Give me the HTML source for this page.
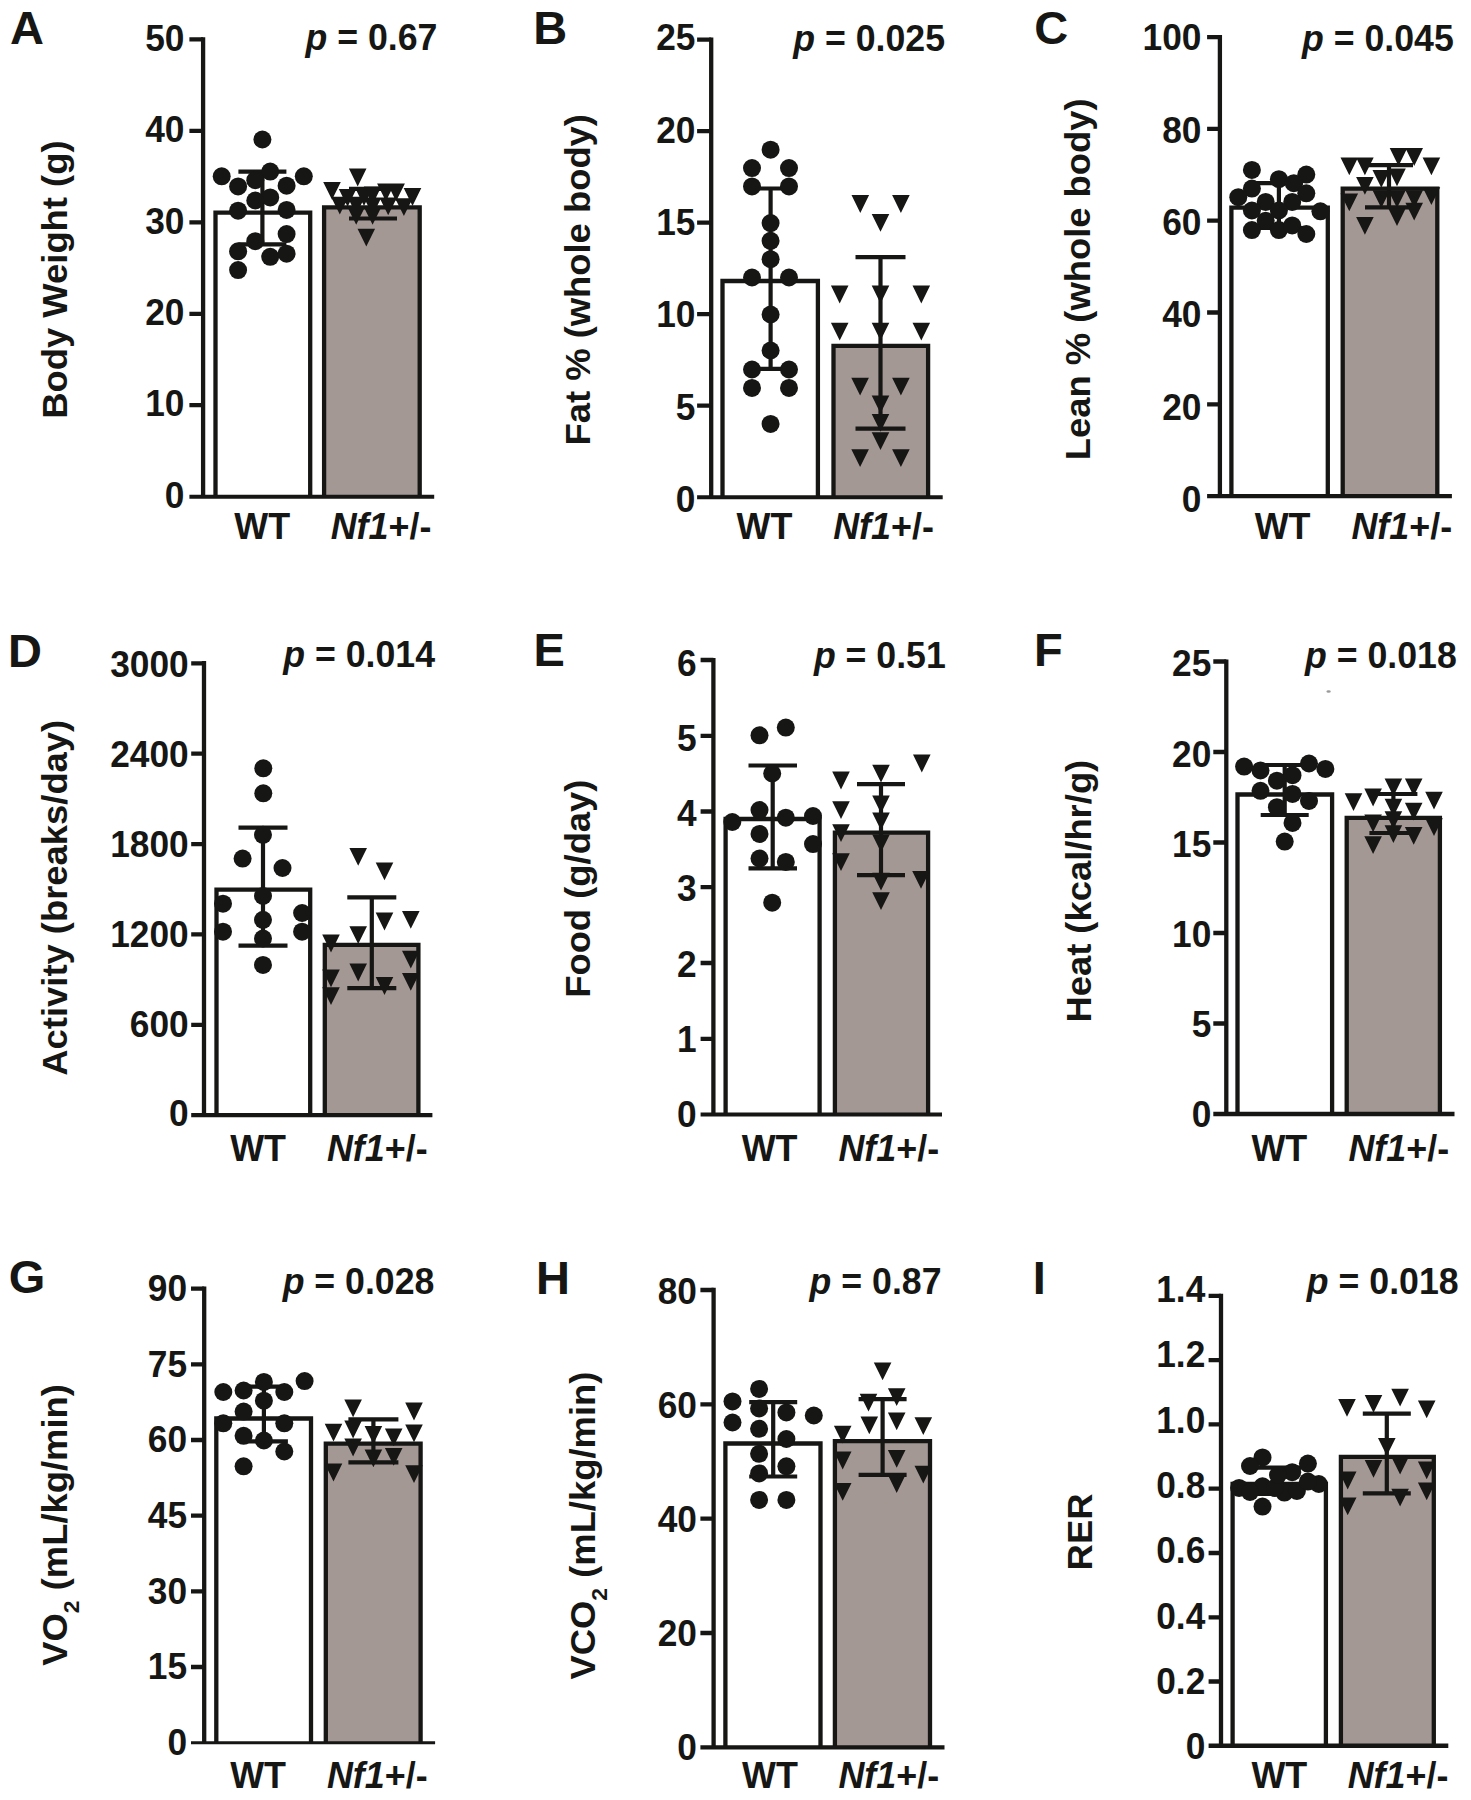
<!DOCTYPE html>
<html><head><meta charset="utf-8"><title>Figure</title>
<style>
html,body{margin:0;padding:0;background:#fff;}
body{width:1471px;height:1800px;overflow:hidden;}
svg{display:block;}
text{font-family:"Liberation Sans",sans-serif;font-weight:bold;fill:#161614;}
.tk{font-size:35.3px;text-anchor:end;}
.let{font-size:47px;}
.pv{font-size:35.7px;text-anchor:end;}
.xl{font-size:35.9px;}
.yl{font-size:35px;text-anchor:start;}
</style></head><body>
<svg width="1471" height="1800" viewBox="0 0 1471 1800">
<rect width="1471" height="1800" fill="#fff"/>
<rect x="215.5" y="212.6" width="94.7" height="284.1" fill="#ffffff"/>
<path d="M215.5 496.7V212.6H310.2V496.7" fill="none" stroke="#161614" stroke-width="4.3" stroke-linejoin="miter" stroke-linecap="butt"/>
<rect x="324.1" y="207.3" width="95.5" height="289.4" fill="#a39894"/>
<path d="M324.1 496.7V207.3H419.7V496.7" fill="none" stroke="#161614" stroke-width="4.3" stroke-linejoin="miter" stroke-linecap="butt"/>
<path d="M203.1 37.2V496.7" stroke="#161614" stroke-width="4.3" fill="none"/>
<path d="M189.4 496.7H434.2" stroke="#161614" stroke-width="4.0" fill="none"/>
<text transform="translate(184.4 507.8) scale(1 1.03)" class="tk">0</text>
<text transform="translate(184.4 416.4) scale(1 1.03)" class="tk">10</text>
<text transform="translate(184.4 325) scale(1 1.03)" class="tk">20</text>
<text transform="translate(184.4 233.7) scale(1 1.03)" class="tk">30</text>
<text transform="translate(184.4 142.3) scale(1 1.03)" class="tk">40</text>
<text transform="translate(184.4 50.9) scale(1 1.03)" class="tk">50</text>
<path d="M189.4 405.2H203.1M189.4 313.8H203.1M189.4 222.3H203.1M189.4 130.9H203.1M189.4 39.4H203.1" stroke="#161614" stroke-width="4.3" fill="none"/>
<path d="M262.4 171.6V244.3M238.4 171.6H286.4M238.4 244.3H286.4M373 188.8V218.5M349 188.8H397M349 218.5H397" stroke="#161614" stroke-width="4.2" fill="none"/>
<g fill="#161614"><circle cx="262.4" cy="139.5" r="9.0"/><circle cx="221.7" cy="176.3" r="9.0"/><circle cx="270.2" cy="171.6" r="9.0"/><circle cx="303.8" cy="176.3" r="9.0"/><circle cx="238.1" cy="186.4" r="9.0"/><circle cx="255.3" cy="180.2" r="9.0"/><circle cx="286.6" cy="185.7" r="9.0"/><circle cx="270.2" cy="197.4" r="9.0"/><circle cx="255.3" cy="200.5" r="9.0"/><circle cx="238.1" cy="210.7" r="9.0"/><circle cx="286.6" cy="209.9" r="9.0"/><circle cx="286.6" cy="234.1" r="9.0"/><circle cx="255.3" cy="241.2" r="9.0"/><circle cx="238.1" cy="251.3" r="9.0"/><circle cx="270.2" cy="256.8" r="9.0"/><circle cx="286.6" cy="253.7" r="9.0"/><circle cx="238.1" cy="270.1" r="9.0"/></g>
<path fill="#161614" d="M348.9 168.6H366.5L357.7 186.4ZM323.2 181.9H340.8L332 199.7ZM377.1 183.5H394.7L385.9 201.3ZM387.3 183.5H404.9L396.1 201.3ZM403.7 188.1H421.3L412.5 205.9ZM338.8 188.9H356.4L347.6 206.7ZM355.2 188.1H372.8L364 205.9ZM363.8 186.6H381.4L372.6 204.4ZM331 196.7H348.6L339.8 214.5ZM347.4 196.7H365L356.2 214.5ZM363.8 197.5H381.4L372.6 215.3ZM379.4 197.5H397L388.2 215.3ZM395.1 198.3H412.7L403.9 216.1ZM347.4 206.9H365L356.2 224.7ZM363.8 206.9H381.4L372.6 224.7ZM357.5 228.8H375.1L366.3 246.6Z"/>
<text x="10" y="44.2" class="let">A</text>
<text transform="translate(437.4 50.4) scale(1 1.06)" class="pv"><tspan font-style="italic">p</tspan> = 0.67</text>
<text transform="translate(262.2 539) scale(1 1.04)" class="xl" text-anchor="middle">WT</text>
<text transform="translate(330.7 539) scale(1 1.04)" class="xl"><tspan font-style="italic">Nf1</tspan>+/-</text>
<text transform="translate(66.8 416.1) rotate(-90) scale(1.04 1)" x="-2.5" y="0" class="yl">Body Weight (g)</text>
<rect x="722.5" y="281" width="95.3" height="216.2" fill="#ffffff"/>
<path d="M722.5 497.2V281H817.9V497.2" fill="none" stroke="#161614" stroke-width="4.3" stroke-linejoin="miter" stroke-linecap="butt"/>
<rect x="833.5" y="345.8" width="94.5" height="151.4" fill="#a39894"/>
<path d="M833.5 497.2V345.8H928.1V497.2" fill="none" stroke="#161614" stroke-width="4.3" stroke-linejoin="miter" stroke-linecap="butt"/>
<path d="M711.2 37.5V497.2" stroke="#161614" stroke-width="4.3" fill="none"/>
<path d="M697.1 497.2H942.7" stroke="#161614" stroke-width="4.0" fill="none"/>
<text transform="translate(695.5 511.8) scale(1 1.03)" class="tk">0</text>
<text transform="translate(695.5 419.5) scale(1 1.03)" class="tk">5</text>
<text transform="translate(695.5 327.2) scale(1 1.03)" class="tk">10</text>
<text transform="translate(695.5 234.9) scale(1 1.03)" class="tk">15</text>
<text transform="translate(695.5 142.6) scale(1 1.03)" class="tk">20</text>
<text transform="translate(695.5 50.3) scale(1 1.03)" class="tk">25</text>
<path d="M697.1 405.7H711.2M697.1 314.2H711.2M697.1 222.6H711.2M697.1 131.1H711.2M697.1 39.6H711.2" stroke="#161614" stroke-width="4.3" fill="none"/>
<path d="M770.6 188.5V368.9M746.6 188.5H794.6M746.6 368.9H794.6M880.5 257.1V428.7M855.5 257.1H905.5M855.5 428.7H905.5" stroke="#161614" stroke-width="4.2" fill="none"/>
<g fill="#161614"><circle cx="770.6" cy="149.7" r="9.0"/><circle cx="752" cy="168.1" r="9.0"/><circle cx="789" cy="168.1" r="9.0"/><circle cx="752" cy="186.4" r="9.0"/><circle cx="789" cy="186.4" r="9.0"/><circle cx="770.6" cy="223.1" r="9.0"/><circle cx="770.6" cy="240.8" r="9.0"/><circle cx="770.6" cy="259.2" r="9.0"/><circle cx="752" cy="277.5" r="9.0"/><circle cx="789" cy="277.5" r="9.0"/><circle cx="770.6" cy="314.5" r="9.0"/><circle cx="770.6" cy="350.5" r="9.0"/><circle cx="752" cy="369.5" r="9.0"/><circle cx="789" cy="369.5" r="9.0"/><circle cx="752" cy="387.9" r="9.0"/><circle cx="789" cy="387.9" r="9.0"/><circle cx="770.6" cy="423.9" r="9.0"/></g>
<path fill="#161614" d="M851.5 195.1H869.1L860.3 212.9ZM892.1 195.1H909.7L900.9 212.9ZM871.7 213.9H889.3L880.5 231.7ZM830.9 285.6H848.5L839.7 303.4ZM871.7 285.6H889.3L880.5 303.4ZM912.5 285.6H930.1L921.3 303.4ZM830.9 322.8H848.5L839.7 340.6ZM871.7 322.8H889.3L880.5 340.6ZM912.5 322.8H930.1L921.3 340.6ZM851.3 377.8H868.9L860.1 395.6ZM892.1 377.8H909.7L900.9 395.6ZM871.7 395.5H889.3L880.5 413.3ZM871.7 413.9H889.3L880.5 431.7ZM871.7 432.2H889.3L880.5 450ZM851.3 449.2H868.9L860.1 467ZM892.1 449.2H909.7L900.9 467Z"/>
<text x="533.2" y="44" class="let">B</text>
<text transform="translate(945 50.6) scale(1 1.06)" class="pv"><tspan font-style="italic">p</tspan> = 0.025</text>
<text transform="translate(764.4 539) scale(1 1.04)" class="xl" text-anchor="middle">WT</text>
<text transform="translate(833.2 539) scale(1 1.04)" class="xl"><tspan font-style="italic">Nf1</tspan>+/-</text>
<text transform="translate(589.8 442.9) rotate(-90) scale(1.04 1)" x="-2.5" y="0" class="yl">Fat % (whole body)</text>
<rect x="1231.4" y="207.7" width="96.4" height="288.5" fill="#ffffff"/>
<path d="M1231.4 496.1V207.7H1327.8V496.1" fill="none" stroke="#161614" stroke-width="4.3" stroke-linejoin="miter" stroke-linecap="butt"/>
<rect x="1342.7" y="188.7" width="94.7" height="307.5" fill="#a39894"/>
<path d="M1342.7 496.1V188.7H1437.3V496.1" fill="none" stroke="#161614" stroke-width="4.3" stroke-linejoin="miter" stroke-linecap="butt"/>
<path d="M1219.9 35V496.1" stroke="#161614" stroke-width="4.3" fill="none"/>
<path d="M1207.1 496.1H1451.9" stroke="#161614" stroke-width="4.2" fill="none"/>
<text transform="translate(1201.5 512.1) scale(1 1.03)" class="tk">0</text>
<text transform="translate(1201.5 419.8) scale(1 1.03)" class="tk">20</text>
<text transform="translate(1201.5 327.4) scale(1 1.03)" class="tk">40</text>
<text transform="translate(1201.5 235.1) scale(1 1.03)" class="tk">60</text>
<text transform="translate(1201.5 142.7) scale(1 1.03)" class="tk">80</text>
<text transform="translate(1201.5 50.4) scale(1 1.03)" class="tk">100</text>
<path d="M1207.1 404.3H1219.9M1207.1 312.5H1219.9M1207.1 220.7H1219.9M1207.1 128.9H1219.9M1207.1 37.1H1219.9" stroke="#161614" stroke-width="4.3" fill="none"/>
<path d="M1278.9 183.2V228M1254.9 183.2H1302.9M1254.9 228H1302.9M1389 165.2V207.4M1365 165.2H1413M1365 207.4H1413" stroke="#161614" stroke-width="4.2" fill="none"/>
<g fill="#161614"><circle cx="1251.9" cy="169.9" r="9.0"/><circle cx="1278.9" cy="179.2" r="9.0"/><circle cx="1306.3" cy="174.6" r="9.0"/><circle cx="1251.9" cy="188.6" r="9.0"/><circle cx="1238.3" cy="197.2" r="9.0"/><circle cx="1293.8" cy="183.2" r="9.0"/><circle cx="1306.3" cy="193.3" r="9.0"/><circle cx="1265.7" cy="201.9" r="9.0"/><circle cx="1292.2" cy="201.9" r="9.0"/><circle cx="1251.9" cy="210.5" r="9.0"/><circle cx="1278.9" cy="210.5" r="9.0"/><circle cx="1320.4" cy="211.3" r="9.0"/><circle cx="1265.7" cy="220.7" r="9.0"/><circle cx="1251.9" cy="230.1" r="9.0"/><circle cx="1278.9" cy="230.1" r="9.0"/><circle cx="1292.2" cy="225.4" r="9.0"/><circle cx="1306.3" cy="234" r="9.0"/></g>
<path fill="#161614" d="M1340.5 157.5H1358.1L1349.3 175.3ZM1356.1 157.5H1373.7L1364.9 175.3ZM1389.7 148.1H1407.3L1398.5 165.9ZM1405.4 148.1H1423L1414.2 165.9ZM1422.6 157.5H1440.2L1431.4 175.3ZM1372.5 170H1390.1L1381.3 187.8ZM1388.2 168.4H1405.8L1397 186.2ZM1356.1 177H1373.7L1364.9 194.8ZM1340.5 193.5H1358.1L1349.3 211.3ZM1372.5 190.3H1390.1L1381.3 208.1ZM1388.2 190.3H1405.8L1397 208.1ZM1405.4 190.3H1423L1414.2 208.1ZM1422.6 187.2H1440.2L1431.4 205ZM1356.1 216.9H1373.7L1364.9 234.7ZM1388.2 208.3H1405.8L1397 226.1ZM1405.4 202.8H1423L1414.2 220.6Z"/>
<text x="1034.2" y="43.8" class="let">C</text>
<text transform="translate(1453.8 50.6) scale(1 1.06)" class="pv"><tspan font-style="italic">p</tspan> = 0.045</text>
<text transform="translate(1282.6 539) scale(1 1.04)" class="xl" text-anchor="middle">WT</text>
<text transform="translate(1351.4 539) scale(1 1.04)" class="xl"><tspan font-style="italic">Nf1</tspan>+/-</text>
<text transform="translate(1089.8 457.6) rotate(-90) scale(1.04 1)" x="-2.5" y="0" class="yl">Lean % (whole body)</text>
<rect x="216.5" y="889.6" width="93.7" height="225.6" fill="#ffffff"/>
<path d="M216.5 1115.2V889.6H310.2V1115.2" fill="none" stroke="#161614" stroke-width="4.3" stroke-linejoin="miter" stroke-linecap="butt"/>
<rect x="324.8" y="944.9" width="93.5" height="170.3" fill="#a39894"/>
<path d="M324.8 1115.2V944.9H418.4V1115.2" fill="none" stroke="#161614" stroke-width="4.3" stroke-linejoin="miter" stroke-linecap="butt"/>
<path d="M204 661.1V1115.2" stroke="#161614" stroke-width="4.3" fill="none"/>
<path d="M191.2 1115.2H432.4" stroke="#161614" stroke-width="4.2" fill="none"/>
<text transform="translate(188.7 1126.4) scale(1 1.03)" class="tk">0</text>
<text transform="translate(188.7 1036.5) scale(1 1.03)" class="tk">600</text>
<text transform="translate(188.7 946.5) scale(1 1.03)" class="tk">1200</text>
<text transform="translate(188.7 856.6) scale(1 1.03)" class="tk">1800</text>
<text transform="translate(188.7 766.6) scale(1 1.03)" class="tk">2400</text>
<text transform="translate(188.7 676.7) scale(1 1.03)" class="tk">3000</text>
<path d="M191.2 1024.8H204M191.2 934.4H204M191.2 844.1H204M191.2 753.7H204M191.2 663.3H204" stroke="#161614" stroke-width="4.3" fill="none"/>
<path d="M263 827.6V945.7M238.5 827.6H287.5M238.5 945.7H287.5M371.8 897.3V988.2M347.3 897.3H396.3M347.3 988.2H396.3" stroke="#161614" stroke-width="4.2" fill="none"/>
<g fill="#161614"><circle cx="263.3" cy="768.3" r="9.0"/><circle cx="263.3" cy="793.3" r="9.0"/><circle cx="263" cy="834.8" r="9.0"/><circle cx="242.6" cy="858.6" r="9.0"/><circle cx="282.5" cy="868" r="9.0"/><circle cx="223" cy="903.7" r="9.0"/><circle cx="263" cy="896" r="9.0"/><circle cx="302.1" cy="913" r="9.0"/><circle cx="263" cy="919.8" r="9.0"/><circle cx="223" cy="931.7" r="9.0"/><circle cx="302.1" cy="931.7" r="9.0"/><circle cx="263" cy="938.5" r="9.0"/><circle cx="263" cy="964.9" r="9.0"/></g>
<path fill="#161614" d="M349.4 848H367L358.2 865.8ZM375.7 862.4H393.3L384.5 880.2ZM402 910.9H419.6L410.8 928.7ZM375.7 912.6H393.3L384.5 930.4ZM349.4 926.2H367L358.2 944ZM322.2 934.6H339.8L331 952.4ZM402 950.8H419.6L410.8 968.6ZM349.4 963.6H367L358.2 981.4ZM322.2 969.5H339.8L331 987.3ZM375.7 977.1H393.3L384.5 994.9ZM402 972.9H419.6L410.8 990.7ZM322.2 987.3H339.8L331 1005.1Z"/>
<text x="8" y="666.5" class="let">D</text>
<text transform="translate(435 666.9) scale(1 1.06)" class="pv"><tspan font-style="italic">p</tspan> = 0.014</text>
<text transform="translate(258.1 1161.2) scale(1 1.04)" class="xl" text-anchor="middle">WT</text>
<text transform="translate(326.9 1161.2) scale(1 1.04)" class="xl"><tspan font-style="italic">Nf1</tspan>+/-</text>
<text transform="translate(67.4 1073.8) rotate(-90) scale(1.04 1)" x="-1.8" y="0" class="yl">Activity (breaks/day)</text>
<rect x="725.6" y="819" width="94" height="295.5" fill="#ffffff"/>
<path d="M725.6 1114.5V819H819.6V1114.5" fill="none" stroke="#161614" stroke-width="4.3" stroke-linejoin="miter" stroke-linecap="butt"/>
<rect x="834.9" y="832.6" width="93.3" height="281.9" fill="#a39894"/>
<path d="M834.9 1114.5V832.6H928.1V1114.5" fill="none" stroke="#161614" stroke-width="4.3" stroke-linejoin="miter" stroke-linecap="butt"/>
<path d="M713.4 657.9V1114.5" stroke="#161614" stroke-width="4.3" fill="none"/>
<path d="M700.6 1114.5H942" stroke="#161614" stroke-width="4.2" fill="none"/>
<text transform="translate(696.6 1126.7) scale(1 1.03)" class="tk">0</text>
<text transform="translate(696.6 1051.6) scale(1 1.03)" class="tk">1</text>
<text transform="translate(696.6 976.5) scale(1 1.03)" class="tk">2</text>
<text transform="translate(696.6 901.4) scale(1 1.03)" class="tk">3</text>
<text transform="translate(696.6 826.3) scale(1 1.03)" class="tk">4</text>
<text transform="translate(696.6 751.2) scale(1 1.03)" class="tk">5</text>
<text transform="translate(696.6 676.1) scale(1 1.03)" class="tk">6</text>
<path d="M700.6 1038.8H713.4M700.6 963H713.4M700.6 887.2H713.4M700.6 811.5H713.4M700.6 735.8H713.4M700.6 660H713.4" stroke="#161614" stroke-width="4.3" fill="none"/>
<path d="M772.7 765.5V868.3M748.5 765.5H797M748.5 868.3H797M881 784.2V875.1M857 784.2H905M857 875.1H905" stroke="#161614" stroke-width="4.2" fill="none"/>
<g fill="#161614"><circle cx="759.5" cy="735.3" r="9.0"/><circle cx="785.8" cy="727.6" r="9.0"/><circle cx="772.2" cy="773.5" r="9.0"/><circle cx="732.3" cy="822" r="9.0"/><circle cx="759.5" cy="810.1" r="9.0"/><circle cx="785.8" cy="817.7" r="9.0"/><circle cx="813" cy="816" r="9.0"/><circle cx="759.5" cy="833.9" r="9.0"/><circle cx="813" cy="844.1" r="9.0"/><circle cx="759.5" cy="858.5" r="9.0"/><circle cx="785.8" cy="861.9" r="9.0"/><circle cx="772.2" cy="902.7" r="9.0"/></g>
<path fill="#161614" d="M832.2 771.6H849.8L841 789.4ZM872.2 764.8H889.8L881 782.6ZM913 754.6H930.6L921.8 772.4ZM832.2 801.3H849.8L841 819.1ZM872.2 795.4H889.8L881 813.2ZM872.2 812.4H889.8L881 830.2ZM832.2 824.3H849.8L841 842.1ZM872.2 834.5H889.8L881 852.3ZM832.2 853.2H849.8L841 871ZM872.2 872.7H889.8L881 890.5ZM912.2 871H929.8L921 888.8ZM872.2 892.2H889.8L881 910Z"/>
<text x="533.5" y="666.2" class="let">E</text>
<text transform="translate(945.8 668.2) scale(1 1.06)" class="pv"><tspan font-style="italic">p</tspan> = 0.51</text>
<text transform="translate(769.6 1161.2) scale(1 1.04)" class="xl" text-anchor="middle">WT</text>
<text transform="translate(838.4 1161.2) scale(1 1.04)" class="xl"><tspan font-style="italic">Nf1</tspan>+/-</text>
<text transform="translate(589.8 995.2) rotate(-90) scale(1.04 1)" x="-2.5" y="0" class="yl">Food (g/day)</text>
<rect x="1237.5" y="794.5" width="94.7" height="319.5" fill="#ffffff"/>
<path d="M1237.5 1114V794.5H1332.1V1114" fill="none" stroke="#161614" stroke-width="4.3" stroke-linejoin="miter" stroke-linecap="butt"/>
<rect x="1346.7" y="817.9" width="93.3" height="296.1" fill="#a39894"/>
<path d="M1346.7 1114V817.9H1439.9V1114" fill="none" stroke="#161614" stroke-width="4.3" stroke-linejoin="miter" stroke-linecap="butt"/>
<path d="M1226.3 659.4V1114" stroke="#161614" stroke-width="4.3" fill="none"/>
<path d="M1213.3 1114H1454.5" stroke="#161614" stroke-width="4.3" fill="none"/>
<text transform="translate(1211.3 1126.9) scale(1 1.03)" class="tk">0</text>
<text transform="translate(1211.3 1036.8) scale(1 1.03)" class="tk">5</text>
<text transform="translate(1211.3 946.7) scale(1 1.03)" class="tk">10</text>
<text transform="translate(1211.3 856.6) scale(1 1.03)" class="tk">15</text>
<text transform="translate(1211.3 766.5) scale(1 1.03)" class="tk">20</text>
<text transform="translate(1211.3 676.4) scale(1 1.03)" class="tk">25</text>
<path d="M1213.3 1023.5H1226.3M1213.3 933H1226.3M1213.3 842.5H1226.3M1213.3 752H1226.3M1213.3 661.5H1226.3" stroke="#161614" stroke-width="4.3" fill="none"/>
<path d="M1284.7 765V815M1260.7 765H1308.7M1260.7 815H1308.7M1393.4 794V833M1369.4 794H1417.4M1369.4 833H1417.4" stroke="#161614" stroke-width="4.2" fill="none"/>
<g fill="#161614"><circle cx="1244.1" cy="766.6" r="9.0"/><circle cx="1260.5" cy="770.5" r="9.0"/><circle cx="1309" cy="763.5" r="9.0"/><circle cx="1325.4" cy="768.9" r="9.0"/><circle cx="1276.9" cy="780.7" r="9.0"/><circle cx="1292.5" cy="775.2" r="9.0"/><circle cx="1260.5" cy="790.8" r="9.0"/><circle cx="1292.5" cy="793.9" r="9.0"/><circle cx="1309" cy="801" r="9.0"/><circle cx="1276.9" cy="807.2" r="9.0"/><circle cx="1292.5" cy="822.9" r="9.0"/><circle cx="1284.7" cy="841.6" r="9.0"/></g>
<path fill="#161614" d="M1344.7 793.3H1362.3L1353.5 811.1ZM1364.3 788.6H1381.9L1373.1 806.4ZM1384.6 778.4H1402.2L1393.4 796.2ZM1404.9 778.4H1422.5L1413.7 796.2ZM1425.2 791.7H1442.8L1434 809.5ZM1384.6 798.8H1402.2L1393.4 816.6ZM1404.9 802.7H1422.5L1413.7 820.5ZM1364.3 814.4H1381.9L1373.1 832.2ZM1384.6 825.3H1402.2L1393.4 843.1ZM1404.9 826.9H1422.5L1413.7 844.7ZM1364.3 836.3H1381.9L1373.1 854.1ZM1425.2 818.3H1442.8L1434 836.1ZM1384.6 811.3H1402.2L1393.4 829.1Z"/>
<text x="1034" y="666" class="let">F</text>
<text transform="translate(1456.8 668.2) scale(1 1.06)" class="pv"><tspan font-style="italic">p</tspan> = 0.018</text>
<text transform="translate(1279.3 1161.2) scale(1 1.04)" class="xl" text-anchor="middle">WT</text>
<text transform="translate(1348.4 1161.2) scale(1 1.04)" class="xl"><tspan font-style="italic">Nf1</tspan>+/-</text>
<text transform="translate(1090.5 1020) rotate(-90) scale(1.04 1)" x="-2.5" y="0" class="yl">Heat (kcal/hr/g)</text>
<rect x="216.3" y="1418.5" width="94.6" height="324.2" fill="#ffffff"/>
<path d="M216.3 1742.7V1418.5H311V1742.7" fill="none" stroke="#161614" stroke-width="4.3" stroke-linejoin="miter" stroke-linecap="butt"/>
<rect x="325.8" y="1443.7" width="94.7" height="299" fill="#a39894"/>
<path d="M325.8 1742.7V1443.7H420.6V1742.7" fill="none" stroke="#161614" stroke-width="4.3" stroke-linejoin="miter" stroke-linecap="butt"/>
<path d="M204.2 1286.4V1742.7" stroke="#161614" stroke-width="4.3" fill="none"/>
<path d="M191 1742.7H435.1" stroke="#161614" stroke-width="3.0" fill="none"/>
<text transform="translate(187.1 1755.1) scale(1 1.03)" class="tk">0</text>
<text transform="translate(187.1 1679.4) scale(1 1.03)" class="tk">15</text>
<text transform="translate(187.1 1603.7) scale(1 1.03)" class="tk">30</text>
<text transform="translate(187.1 1528) scale(1 1.03)" class="tk">45</text>
<text transform="translate(187.1 1452.4) scale(1 1.03)" class="tk">60</text>
<text transform="translate(187.1 1376.7) scale(1 1.03)" class="tk">75</text>
<text transform="translate(187.1 1301) scale(1 1.03)" class="tk">90</text>
<path d="M191 1667H204.2M191 1591.3H204.2M191 1515.7H204.2M191 1440H204.2M191 1364.3H204.2M191 1288.6H204.2" stroke="#161614" stroke-width="4.3" fill="none"/>
<path d="M263.9 1386.6V1441.3M239.9 1386.6H287.9M239.9 1441.3H287.9M373.4 1419.4V1462.4M348.4 1419.4H398.4M348.4 1462.4H398.4" stroke="#161614" stroke-width="4.2" fill="none"/>
<g fill="#161614"><circle cx="223.3" cy="1392" r="9.0"/><circle cx="243.6" cy="1390.5" r="9.0"/><circle cx="263.9" cy="1381.9" r="9.0"/><circle cx="284.3" cy="1392" r="9.0"/><circle cx="304.6" cy="1381.1" r="9.0"/><circle cx="263.9" cy="1400.7" r="9.0"/><circle cx="243.6" cy="1411.6" r="9.0"/><circle cx="223.3" cy="1423.3" r="9.0"/><circle cx="284.3" cy="1423.3" r="9.0"/><circle cx="243.6" cy="1435.8" r="9.0"/><circle cx="263.9" cy="1440.5" r="9.0"/><circle cx="284.3" cy="1451.5" r="9.0"/><circle cx="243.6" cy="1466.3" r="9.0"/></g>
<path fill="#161614" d="M344.3 1399.5H361.9L353.1 1417.3ZM405.2 1402.6H422.8L414 1420.4ZM324.7 1423.7H342.3L333.5 1441.5ZM344.3 1420.6H361.9L353.1 1438.4ZM364.6 1426.1H382.2L373.4 1443.9ZM384.9 1428.4H402.5L393.7 1446.2ZM405.2 1424.5H422.8L414 1442.3ZM344.3 1438.6H361.9L353.1 1456.4ZM364.6 1449.5H382.2L373.4 1467.3ZM384.9 1448H402.5L393.7 1465.8ZM324.7 1463.6H342.3L333.5 1481.4ZM405.2 1465.2H422.8L414 1483Z"/>
<text x="8.8" y="1293.2" class="let">G</text>
<text transform="translate(434.4 1294.4) scale(1 1.06)" class="pv"><tspan font-style="italic">p</tspan> = 0.028</text>
<text transform="translate(258.1 1788.4) scale(1 1.04)" class="xl" text-anchor="middle">WT</text>
<text transform="translate(326.9 1788.4) scale(1 1.04)" class="xl"><tspan font-style="italic">Nf1</tspan>+/-</text>
<text transform="translate(67.4 1665.7) rotate(-90) scale(1.04 1)" x="0" y="0" class="yl">VO<tspan font-size="22" dy="12">2</tspan><tspan dy="-12"> (mL/kg/min)</tspan></text>
<rect x="725.4" y="1443.5" width="95.1" height="303.8" fill="#ffffff"/>
<path d="M725.4 1747.3V1443.5H820.5V1747.3" fill="none" stroke="#161614" stroke-width="4.3" stroke-linejoin="miter" stroke-linecap="butt"/>
<rect x="834.9" y="1441.2" width="95" height="306.1" fill="#a39894"/>
<path d="M834.9 1747.3V1441.2H930V1747.3" fill="none" stroke="#161614" stroke-width="4.3" stroke-linejoin="miter" stroke-linecap="butt"/>
<path d="M713.6 1287.8V1747.3" stroke="#161614" stroke-width="4.3" fill="none"/>
<path d="M700.4 1747.3H944.5" stroke="#161614" stroke-width="4.2" fill="none"/>
<text transform="translate(697 1760) scale(1 1.03)" class="tk">0</text>
<text transform="translate(697 1645.9) scale(1 1.03)" class="tk">20</text>
<text transform="translate(697 1531.9) scale(1 1.03)" class="tk">40</text>
<text transform="translate(697 1417.8) scale(1 1.03)" class="tk">60</text>
<text transform="translate(697 1303.7) scale(1 1.03)" class="tk">80</text>
<path d="M700.4 1633H713.6M700.4 1518.7H713.6M700.4 1404.3H713.6M700.4 1290H713.6" stroke="#161614" stroke-width="4.3" fill="none"/>
<path d="M773.2 1402.2V1476.5M749.2 1402.2H797.2M749.2 1476.5H797.2M882.6 1399.1V1474.9M858.6 1399.1H906.6M858.6 1474.9H906.6" stroke="#161614" stroke-width="4.2" fill="none"/>
<g fill="#161614"><circle cx="732.5" cy="1401.4" r="9.0"/><circle cx="759.1" cy="1388.9" r="9.0"/><circle cx="732.5" cy="1422.5" r="9.0"/><circle cx="759.1" cy="1408.5" r="9.0"/><circle cx="786.4" cy="1412.4" r="9.0"/><circle cx="813.8" cy="1415.5" r="9.0"/><circle cx="759.1" cy="1428.8" r="9.0"/><circle cx="786.4" cy="1439" r="9.0"/><circle cx="759.1" cy="1453.8" r="9.0"/><circle cx="786.4" cy="1466.3" r="9.0"/><circle cx="759.1" cy="1473.4" r="9.0"/><circle cx="759.1" cy="1499.9" r="9.0"/><circle cx="786.4" cy="1499.9" r="9.0"/></g>
<path fill="#161614" d="M873.8 1362.5H891.4L882.6 1380.3ZM859.7 1393.8H877.3L868.5 1411.6ZM887.9 1388.3H905.5L896.7 1406.1ZM860.5 1416.4H878.1L869.3 1434.2ZM887.9 1412.5H905.5L896.7 1430.3ZM914.5 1417.2H932.1L923.3 1435ZM833.9 1425.8H851.5L842.7 1443.6ZM833.9 1451.6H851.5L842.7 1469.4ZM887.9 1450H905.5L896.7 1467.8ZM914.5 1465.7H932.1L923.3 1483.5ZM833.9 1482.9H851.5L842.7 1500.7ZM887.9 1475.1H905.5L896.7 1492.9Z"/>
<text x="535.9" y="1293.5" class="let">H</text>
<text transform="translate(941.5 1294.4) scale(1 1.06)" class="pv"><tspan font-style="italic">p</tspan> = 0.87</text>
<text transform="translate(770 1788.4) scale(1 1.04)" class="xl" text-anchor="middle">WT</text>
<text transform="translate(838.4 1788.4) scale(1 1.04)" class="xl"><tspan font-style="italic">Nf1</tspan>+/-</text>
<text transform="translate(594.8 1679.5) rotate(-90) scale(1.04 1)" x="0" y="0" class="yl">VCO<tspan font-size="22" dy="12">2</tspan><tspan dy="-12"> (mL/kg/min)</tspan></text>
<rect x="1232.6" y="1483.8" width="93.4" height="262" fill="#ffffff"/>
<path d="M1232.6 1745.8V1483.8H1325.9V1745.8" fill="none" stroke="#161614" stroke-width="4.3" stroke-linejoin="miter" stroke-linecap="butt"/>
<rect x="1340.9" y="1456.8" width="93" height="289" fill="#a39894"/>
<path d="M1340.9 1745.8V1456.8H1433.8V1745.8" fill="none" stroke="#161614" stroke-width="4.3" stroke-linejoin="miter" stroke-linecap="butt"/>
<path d="M1221 1293.8V1745.8" stroke="#161614" stroke-width="4.3" fill="none"/>
<path d="M1208.6 1745.8H1448.3" stroke="#161614" stroke-width="4.5" fill="none"/>
<text transform="translate(1205.3 1759.2) scale(1 1.03)" class="tk">0</text>
<text transform="translate(1205.3 1693.9) scale(1 1.03)" class="tk">0.2</text>
<text transform="translate(1205.3 1628.5) scale(1 1.03)" class="tk">0.4</text>
<text transform="translate(1205.3 1563.2) scale(1 1.03)" class="tk">0.6</text>
<text transform="translate(1205.3 1497.9) scale(1 1.03)" class="tk">0.8</text>
<text transform="translate(1205.3 1432.6) scale(1 1.03)" class="tk">1.0</text>
<text transform="translate(1205.3 1367.2) scale(1 1.03)" class="tk">1.2</text>
<text transform="translate(1205.3 1301.9) scale(1 1.03)" class="tk">1.4</text>
<path d="M1208.6 1681.5H1221M1208.6 1617.3H1221M1208.6 1553H1221M1208.6 1488.7H1221M1208.6 1424.4H1221M1208.6 1360.2H1221M1208.6 1295.9H1221" stroke="#161614" stroke-width="4.3" fill="none"/>
<path d="M1279 1467.6V1494M1257 1467.6H1301M1257 1494H1301M1386.8 1413.6V1493.4M1362.8 1413.6H1410.8M1362.8 1493.4H1410.8" stroke="#161614" stroke-width="4.2" fill="none"/>
<g fill="#161614"><circle cx="1262.5" cy="1457.4" r="9.0"/><circle cx="1250" cy="1466" r="9.0"/><circle cx="1307.9" cy="1463.6" r="9.0"/><circle cx="1292.2" cy="1472.2" r="9.0"/><circle cx="1239.1" cy="1487.9" r="9.0"/><circle cx="1262.5" cy="1486.3" r="9.0"/><circle cx="1284.4" cy="1492.6" r="9.0"/><circle cx="1296.9" cy="1491" r="9.0"/><circle cx="1318.8" cy="1484" r="9.0"/><circle cx="1275" cy="1487.9" r="9.0"/><circle cx="1307.9" cy="1481.6" r="9.0"/><circle cx="1262.5" cy="1506.6" r="9.0"/><circle cx="1278" cy="1475" r="9.0"/><circle cx="1250" cy="1492" r="9.0"/></g>
<path fill="#161614" d="M1338.2 1398.9H1355.8L1347 1416.7ZM1364.7 1395H1382.3L1373.5 1412.8ZM1391.3 1388.7H1408.9L1400.1 1406.5ZM1417.9 1400.5H1435.5L1426.7 1418.3ZM1378 1438H1395.6L1386.8 1455.8ZM1364.7 1459.9H1382.3L1373.5 1477.7ZM1391.3 1456.7H1408.9L1400.1 1474.5ZM1417.9 1461.4H1435.5L1426.7 1479.2ZM1338.9 1471.6H1356.5L1347.7 1489.4ZM1417.9 1482.5H1435.5L1426.7 1500.3ZM1338.9 1497.4H1356.5L1347.7 1515.2ZM1391.3 1488.8H1408.9L1400.1 1506.6Z"/>
<text x="1032.8" y="1293.5" class="let">I</text>
<text transform="translate(1458.6 1294.4) scale(1 1.06)" class="pv"><tspan font-style="italic">p</tspan> = 0.018</text>
<text transform="translate(1279.3 1788.4) scale(1 1.04)" class="xl" text-anchor="middle">WT</text>
<text transform="translate(1347.7 1788.4) scale(1 1.04)" class="xl"><tspan font-style="italic">Nf1</tspan>+/-</text>
<text transform="translate(1091.5 1567.8) rotate(-90) scale(1.04 1)" x="-2.5" y="0" class="yl">RER</text>
<ellipse cx="1328.6" cy="691.5" rx="2.2" ry="1.2" fill="#9a9a9a"/>
</svg>
</body></html>
